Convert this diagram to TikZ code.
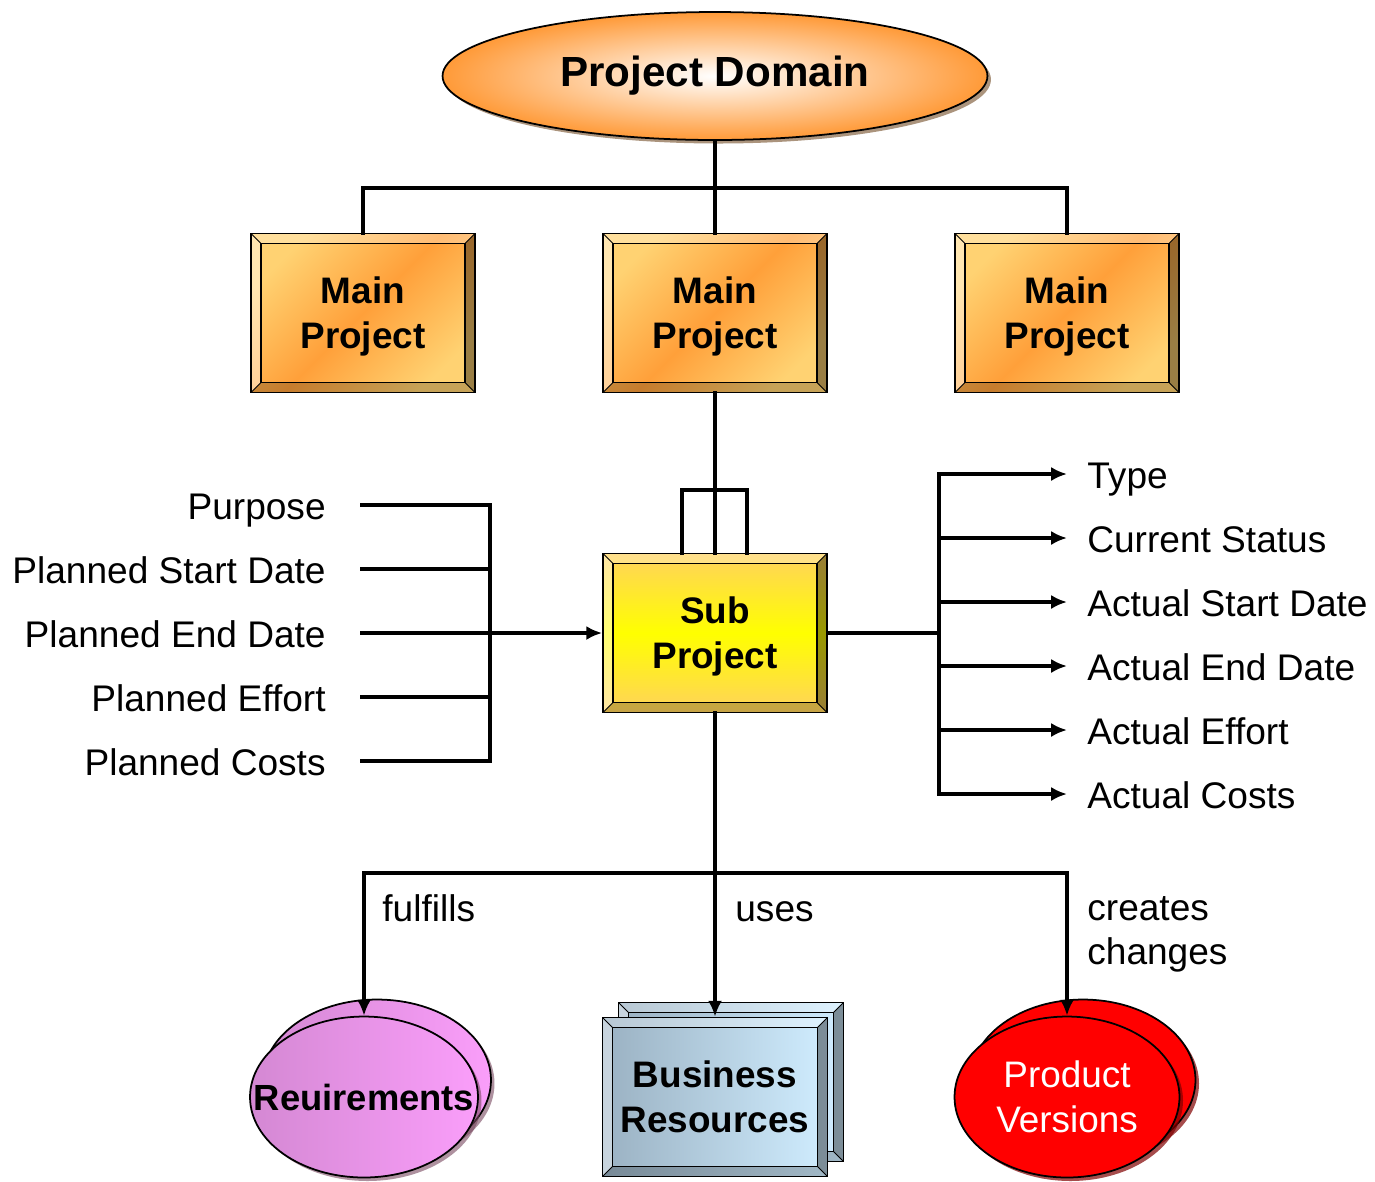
\documentclass[tikz,border=0pt]{standalone}
\usepackage{fontspec}
\setmainfont{Liberation Sans}
\usepackage{tikz}
\usetikzlibrary{calc,arrows.meta,shapes.geometric,shadows}

\definecolor{domorange}{HTML}{FF9A38}
\definecolor{mpyellow}{HTML}{FFD272}
\definecolor{mporange}{HTML}{FFA03A}
\definecolor{subtop}{HTML}{FFD25C}
\definecolor{subyellow}{HTML}{FFFF00}
\definecolor{resleft}{HTML}{9AB1C2}
\definecolor{resright}{HTML}{D0EDFF}
\definecolor{reqleft}{HTML}{D488D3}
\definecolor{reqright}{HTML}{FA9EFA}

\tikzset{
  conn/.style={line width=2.3pt,line cap=rect},
  arr/.style={-{Latex[length=9pt,width=8pt]}},
  txt/.style={font=\fontsize{21.1}{25.5}\selectfont,text height=18pt,text depth=1pt,inner ysep=0pt},
  bevelbox/.style={draw,line width=1pt,minimum width=4.48cm,minimum height=3.18cm,align=center,
    font=\bfseries\fontsize{21}{25.5}\selectfont,text depth=0pt,
    path picture={
      \coordinate (bsw) at (path picture bounding box.south west);
      \coordinate (bne) at (path picture bounding box.north east);
      \coordinate (bnw) at (bsw|-bne); \coordinate (bse) at (bne|-bsw);
      \coordinate (isw) at ($(bsw)+(0.2cm,0.2cm)$);
      \coordinate (ine) at ($(bne)+(-0.2cm,-0.2cm)$);
      \coordinate (inw) at (isw|-ine); \coordinate (ise) at (ine|-isw);
      \fill[white,opacity=.45] (bsw) -- (bnw) -- (inw) -- (isw) -- cycle;
      \fill[white,opacity=.3] (bnw) -- (bne) -- (ine) -- (inw) -- cycle;
      \fill[black,opacity=.4] (bne) -- (bse) -- (ise) -- (ine) -- cycle;
      \fill[black,opacity=.22] (bse) -- (bsw) -- (isw) -- (ise) -- cycle;
      \draw[line width=.9pt] (isw) rectangle (ine);
      \draw[line width=.5pt] (bsw) -- (isw) (bnw) -- (inw) (bne) -- (ine) (bse) -- (ise);
    }},
  mainbox/.style={bevelbox,top color=mpyellow,bottom color=mpyellow,middle color=mporange,shading angle=45},
  resbox/.style={bevelbox,minimum width=4.5cm,left color=resleft,right color=resright},
  reqell/.style={ellipse,draw,line width=1pt,inner sep=0pt,minimum width=4.56cm,minimum height=3.22cm,
    left color=reqleft,right color=reqright,font=\bfseries\fontsize{20.7}{25.5}\selectfont,
    drop shadow={shadow xshift=2pt,shadow yshift=-2pt,fill=black!60!magenta,opacity=.6}},
  prodell/.style={ellipse,draw,line width=1pt,inner sep=0pt,minimum width=4.5cm,minimum height=3.22cm,
    fill=red,text=white,align=center,font=\fontsize{21}{25.5}\selectfont,
    drop shadow={shadow xshift=2pt,shadow yshift=-2pt,fill=red!50!black,opacity=.7}}
}

\begin{document}
\begin{tikzpicture}[x=0.02cm,y=-0.02cm]
\useasboundingbox (0,0) rectangle (1375,1181);

% top level
\node[ellipse,draw,line width=1pt,minimum width=10.9cm,minimum height=2.56cm,
  inner color=white,outer color=domorange,font=\bfseries\fontsize{24}{28}\selectfont,
  drop shadow={shadow xshift=2pt,shadow yshift=-2pt,fill=brown!60!black,opacity=.6}](dom)at(715,76){Project Domain};
\node[mainbox](mp1)at(363,313){Main\\Project};
\node[mainbox](mp2)at(715,313){Main\\Project};
\node[mainbox](mp3)at(1067,313){Main\\Project};
\draw[conn] (dom.south) -- ++(0,47) -| (mp1.north);
\draw[conn] (dom.south) -- ++(0,47) -| (mp3.north);
\draw[conn] (dom.south) -- (mp2.north);

% sub project
\node[bevelbox,top color=subtop,bottom color=subtop,middle color=subyellow](sub)at(715,633){Sub\\Project};
\draw[conn] (mp2.south) -- (sub.north);
\draw[conn] ([xshift=-0.66cm]sub.north) -- ++(0,-63) -- ++(65,0) -- ++(0,63);

% planned values
\coordinate (lj) at (490,633);
\foreach \t [count=\i] in {Purpose,Planned Start Date,Planned End Date,Planned Effort,Planned Costs}{
  \node[txt,anchor=east,inner xsep=0.72cm](p\i)at(362,441+64*\i){\t};
  \draw[conn] (p\i.east) -- (p\i.east-|lj);}
\draw[conn] (p1.east-|lj) -- (p5.east-|lj);
\draw[conn,arr] (lj) -- (sub.west);

% actual values
\coordinate (rj) at (939,633);
\foreach \t [count=\i] in {Type,Current Status,Actual Start Date,Actual End Date,Actual Effort,Actual Costs}{
  \node[txt,anchor=west,inner xsep=0.4cm](a\i)at(1067,410+64*\i){\t};
  \draw[conn,arr] (a\i.west-|rj) -- (a\i.west);}
\draw[conn] (sub.east) -- (rj);
\draw[conn] (a1.west-|rj) -- (a6.west-|rj);

% results
\node[reqell](req2)at(377,1080){};
\node[reqell](req)at(364,1097){\makebox[0pt]{Reuirements}};
\node[resbox](res2)at(731,1082){};
\node[resbox](res)at(715,1097){Business\\Resources};
\node[prodell](prod2)at(1083,1080){};
\node[prodell](prod)at(1067,1097){Product\\Versions};
\draw[conn,arr] (sub.south) -- ++(0,160) -| (req.north);
\draw[conn,arr] (sub.south) -- ++(0,160) -| (prod.north);
\draw[conn,arr] (sub.south) -- (res.north);
\node[txt,anchor=west,inner sep=0pt](lf)at(382,907){fulfills};
\node[txt,anchor=west,inner sep=0pt](lu)at(735,907){uses};
\node[anchor=north west,inner sep=0pt,align=left,font=\fontsize{21.1}{25}\selectfont](lc)at(1087,896){creates\\changes};
\end{tikzpicture}
\end{document}
